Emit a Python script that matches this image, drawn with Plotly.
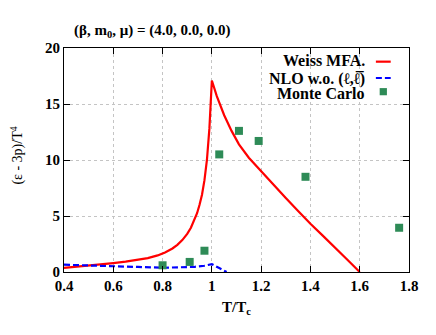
import plotly.graph_objects as go

# ── Data ──────────────────────────────────────────────────────────────────────
weiss_t = [0.40, 0.45, 0.50, 0.55, 0.60, 0.65, 0.70, 0.74, 0.78, 0.81, 0.84,
           0.86, 0.88, 0.90, 0.915, 0.93, 0.94, 0.95, 0.96, 0.97, 0.98,
           0.99, 1.00, 1.02, 1.05, 1.08, 1.11, 1.15, 1.20, 1.25, 1.30,
           1.35, 1.40, 1.45, 1.50, 1.55, 1.60]
weiss_v = [0.36, 0.46, 0.56, 0.68, 0.80, 0.93, 1.08, 1.24, 1.48, 1.75, 2.10,
           2.42, 2.85, 3.40, 3.95, 4.65, 5.25, 6.00, 6.90, 8.20, 10.0,
           12.8, 17.1, 15.7, 14.0, 12.6, 11.4, 10.2, 9.0, 7.75, 6.6,
           5.45, 4.3, 3.25, 2.2, 1.1, 0.0]

nlo_t = [0.40, 0.50, 0.60, 0.70, 0.80, 0.88, 0.93, 0.97, 1.00, 1.03, 1.06]
nlo_v = [0.65, 0.60, 0.54, 0.45, 0.38, 0.40, 0.46, 0.56, 0.70, 0.35, 0.0]

mc_t = [0.80, 0.91, 0.97, 1.03, 1.11, 1.19, 1.38, 1.76]
mc_v = [0.6, 0.9, 1.9, 10.5, 12.6, 11.7, 8.5, 3.95]

SERIF = "Liberation Serif, Times New Roman, serif"
RED, BLUE, GREEN = "#ff0000", "#0000ff", "#2e8b57"

fig = go.Figure()
fig.add_trace(go.Scatter(x=weiss_t, y=weiss_v, mode="lines",
                         line=dict(color=RED, width=2.2)))
fig.add_trace(go.Scatter(x=nlo_t, y=nlo_v, mode="lines",
                         line=dict(color=BLUE, width=2.2, dash="6px,3px")))
fig.add_trace(go.Scatter(x=mc_t, y=mc_v, mode="markers",
                         marker=dict(symbol="square", size=8, color=GREEN)))

axis = dict(showline=True, linecolor="black", linewidth=1, mirror="ticks",
            ticks="inside", ticklen=6, tickcolor="black",
            showgrid=True, gridcolor="#c4c4c4", griddash="dot", gridwidth=1,
            zeroline=False,
            tickfont=dict(family=SERIF, size=15, color="black", weight="bold"))

# the page body adds an 8px offset, so the figure is drawn 8px smaller
fig.update_layout(
    width=428, height=327, showlegend=False,
    paper_bgcolor="white", plot_bgcolor="white",
    margin=dict(l=56, r=27, t=40, b=63),
    xaxis=dict(**axis, range=[0.4, 1.8], dtick=0.2, tickformat="~g",
               title=dict(text="T/T<sub>c</sub>", standoff=8,
                          font=dict(family=SERIF, size=15, color="black", weight="bold"))),
    yaxis=dict(**axis, range=[0, 20], dtick=5),
)

# y title
fig.add_annotation(text="(ε - 3p)/T<sup>4</sup>", textangle=-90,
                   xref="paper", yref="paper", x=-0.136, y=0.52,
                   xanchor="center", yanchor="middle", showarrow=False,
                   font=dict(family=SERIF, size=14, color="black"))

# title
fig.add_annotation(text="(β, m<sub>0</sub>, μ) = (4.0, 0.0, 0.0)",
                   xref="paper", yref="paper", x=0.022, y=1.078,
                   xanchor="left", yanchor="middle", showarrow=False,
                   font=dict(family=SERIF, size=15, color="black", weight="bold"))

# legend (text right aligned, sample on the right)
ELL = "<span style='font-family:DejaVu Serif'>ℓ</span>"
ELL_BAR = "<span style='font-family:DejaVu Serif'>ℓ\u0305</span>"
legend_rows = [
    ("Weiss MFA.", 0.942),
    (f"NLO w.o. ({ELL},{ELL_BAR})", 0.864),
    ("Monte Carlo", 0.797),
]
for txt, yy in legend_rows:
    fig.add_annotation(text=txt, xref="paper", yref="paper", x=0.878, y=yy,
                       xanchor="right", yanchor="middle", showarrow=False,
                       font=dict(family=SERIF, size=16, color="black", weight="bold"))
fig.add_shape(type="line", xref="paper", yref="paper", x0=0.904, x1=0.947,
              y0=0.939, y1=0.939, line=dict(color=RED, width=2.2))
fig.add_shape(type="line", xref="paper", yref="paper", x0=0.904, x1=0.947,
              y0=0.866, y1=0.866, line=dict(color=BLUE, width=2.2, dash="6px,3px"))
fig.add_shape(type="rect", xref="paper", yref="paper", x0=0.915, x1=0.936,
              y0=0.789, y1=0.821, line=dict(width=0), fillcolor=GREEN)

fig.write_html("out.html")
